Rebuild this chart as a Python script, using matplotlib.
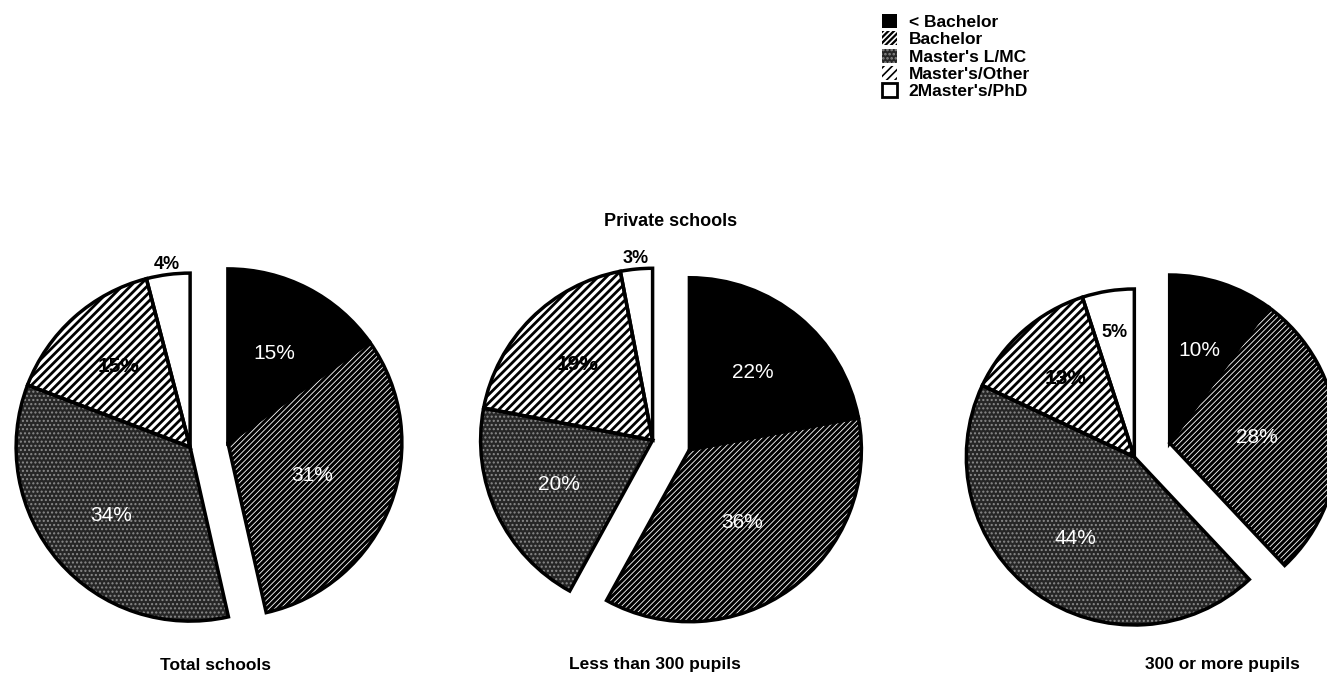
import numpy as np
import matplotlib
matplotlib.use('Agg')
import matplotlib.pyplot as plt
from matplotlib.patches import Patch

# Data
categories = ['< Bachelor', 'Bachelor', "Master's L/MC", "Master's/Other", "2Master's/PhD"]
total_schools = [15, 31, 34, 15, 4]
under_300 = [22, 36, 20, 19, 3]
over_300 = [10, 28, 44, 13, 5]
pie_values = [total_schools, under_300, over_300]
pie_titles = ['Total schools', 'Less than 300 pupils', '300 or more pupils']
group_title = 'Private schools'

# Styles per category
faces = ['black', 'black', '#262626', 'white', 'white']
hatches = [None, '//////', '....', '////', None]
hatch_cols = ['black', 'white', '#8a8a8a', 'black', 'black']
hatch_lw = [1.0, 0.6, 1.0, 2.0, 1.0]
txt_cols = ['white', 'white', 'white', 'black', 'black']

plt.rcParams['font.family'] = ['Liberation Sans', 'DejaVu Sans']
plt.rcParams['hatch.linewidth'] = 1.2

W, H = 1327, 681
fig = plt.figure(figsize=(W / 100, H / 100), dpi=100)
ax = fig.add_axes([0, 0, 1, 1])

# layout (pixel coords, y up)
centers = [(209, 236), (671, 236), (1152, 231)]
radii = [174, 172, 168]
title_x = [215, 655, 1222]
gap = 19
right_group = [0, 1]
left_group = [2, 3, 4]
label_dist = [0.58, 0.52, 0.6, 0.62]
small_dist = [1.06, 1.06, 0.75]


def style(p, i):
    p.set_facecolor(faces[i])
    p.set_edgecolor(hatch_cols[i])
    p.set_hatch(hatches[i])
    if hasattr(p, 'set_hatch_linewidth'):
        p.set_hatch_linewidth(hatch_lw[i])


for k, vals in enumerate(pie_values):
    cx, cy = centers[k]
    r = radii[k]
    fr = np.array(vals) / sum(vals)
    mid = np.deg2rad(90 - 360 * fr[:2].sum() / 2)
    off = np.array([np.cos(mid), np.sin(mid)]) * gap
    for sign, group in [(1, right_group), (-1, left_group)]:
        c = (cx + sign * off[0], cy + sign * off[1])
        wedges, _ = ax.pie(vals, startangle=90, counterclock=False, radius=r,
                           center=c, wedgeprops=dict(linewidth=0))
        outl, _ = ax.pie(vals, startangle=90, counterclock=False, radius=r,
                         center=c, wedgeprops=dict(fill=False, edgecolor='black',
                                                   linewidth=2.5))
        for i, (w, o) in enumerate(zip(wedges, outl)):
            if i not in group:
                w.remove()
                o.remove()
                continue
            style(w, i)
            th = np.deg2rad((w.theta1 + w.theta2) / 2)
            if i == 4:
                d = small_dist[k]
                ax.text(c[0] + r * d * np.cos(th), c[1] + r * d * np.sin(th),
                        f'{vals[i]}%', ha='center', va='center', fontsize=13,
                        fontweight='bold', color='black', zorder=5)
            else:
                d = label_dist[i]
                ax.text(c[0] + r * d * np.cos(th), c[1] + r * d * np.sin(th),
                        f'{vals[i]}%', ha='center', va='center', fontsize=15,
                        color=txt_cols[i], zorder=5,
                        fontweight='bold' if i == 3 else 'normal')
    ax.text(title_x[k], 16, pie_titles[k], ha='center', va='center',
            fontsize=12.5, fontweight='bold')

ax.text(centers[1][0], H - 222, group_title, ha='center', va='center',
        fontsize=13, fontweight='bold')

handles = []
for i in range(len(categories)):
    h = Patch(linewidth=0)
    style(h, i)
    handles.append(h)
handles[4] = Patch(facecolor='white', edgecolor='black', linewidth=2)
ax.legend(handles, categories, loc='upper left', bbox_to_anchor=(0.658, 0.992),
          frameon=False, handlelength=0.85, handleheight=0.85, handletextpad=0.7,
          labelspacing=0.08, borderpad=0, prop=dict(size=12.5, weight='bold'))

ax.set_xlim(0, W)
ax.set_ylim(0, H)
ax.set_aspect('equal')
ax.axis('off')

fig.savefig('out.png', dpi=100)
